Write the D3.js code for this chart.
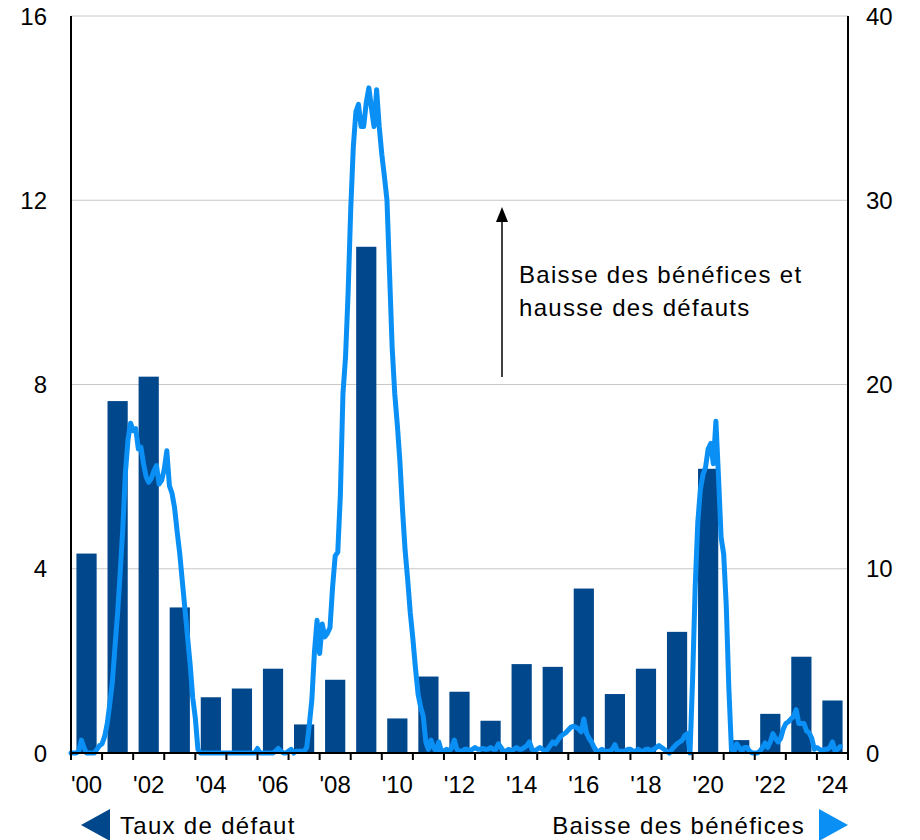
<!DOCTYPE html>
<html><head><meta charset="utf-8">
<script src="https://cdn.jsdelivr.net/npm/d3@7"></script>
<style>body{margin:0;background:#fff}svg{display:block}text{font-family:"Liberation Sans",Arial,sans-serif;fill:#000}</style>
</head><body><svg id="c" width="920" height="840"></svg>
<script>
const years = d3.range(2000, 2025);
const yearLabels = ["'00","'02","'04","'06","'08","'10","'12","'14","'16","'18","'20","'22","'24"];
const defaultRate = [4.33,7.64,8.17,3.16,1.21,1.40,1.83,0.62,1.59,10.99,0.75,1.66,1.33,0.70,1.93,1.87,3.57,1.28,1.83,2.63,6.17,0.28,0.85,2.09,1.14];
const leftTicks = [0,4,8,12,16];
const rightTicks = [0,10,20,30,40];
const earningsStart = 2000;
const earningsDecline = [
 0,0,0,0.1,0.7,0.3,0,0,0,0,0.2,0.4,
 0.5,0.9,1.6,2.7,3.9,5.8,7.6,9.8,12.2,15.2,17.0,17.9,
 17.5,17.6,16.5,16.6,15.7,15.0,14.7,14.9,15.3,15.6,14.6,14.8,
 15.4,16.4,14.5,14.1,13.3,12.0,10.8,9.3,7.8,6.3,4.8,3.0,
 1.9,0.2,0,0,0,0,0,0,0,0,0,0,
 0,0,0,0,0,0,0,0,0,0,0,0,
 0.25,0,0,0,0,0,0,0.1,0.25,0.1,0,0,
 0.1,0.2,0,0.1,0.1,0.1,0.1,0.3,1.5,2.9,5.5,7.2,
 5.4,7.0,6.3,6.5,6.8,9.0,10.7,10.9,14.0,19.5,21.5,25.0,
 29.5,32.9,34.8,35.2,34.0,34.0,35.3,36.1,35.0,34.0,36.0,34.0,
 32.5,31.3,30.0,26.0,22.0,19.5,17.8,15.8,13.2,11.0,9.4,7.6,
 6.2,4.6,3.2,2.5,2.0,0.6,0.2,0.7,0.3,0.1,0.6,0.1,
 0.1,0.2,0.1,0.3,0.7,0.2,0.1,0.1,0.2,0.2,0.1,0.2,
 0.3,0.2,0.2,0.25,0.2,0.2,0.3,0.2,0.2,0.5,0.3,0.1,
 0.1,0.2,0.1,0.2,0.3,0.2,0.2,0.3,0.4,0.6,0.2,0.1,
 0.2,0.3,0.2,0.1,0.2,0.4,0.6,0.5,0.7,0.9,1.0,1.1,
 1.25,1.4,1.45,1.4,1.3,1.15,1.85,1.1,0.8,0.6,0.3,0.1,
 0.1,0.2,0.1,0.1,0.1,0.2,0.45,0.1,0.1,0.1,0.1,0.2,
 0.2,0.1,0.1,0.2,0.1,0.1,0.2,0.2,0.1,0.2,0.3,0.4,
 0.3,0.2,0.1,0,0.2,0.35,0.5,0.6,0.7,0.95,1.05,0,
 4.0,9.0,12.5,14.3,15.1,15.5,16.5,16.8,15.7,18.0,15.0,11.7,
 10.8,8.0,3.5,0.2,0.1,0.5,0.3,0.1,0.3,0.3,0.1,0,
 0,0,0.1,0.3,0.55,0.3,0.6,1.05,0.8,0.6,0.8,1.3,
 1.6,1.7,1.85,2.0,2.35,1.6,1.6,1.6,1.2,1.1,0.8,0.2,
 0.3,0.2,0.1,0.2,0.2,0.3,0.6,0.1,0.2,0.35
];

const svg = d3.select("#c");
const L = 71, R = 848, T = 16, B = 753;
const FS = 24, LS = "1.3px";
const x = d3.scaleBand().domain(years).range([L, R]).paddingInner(0.35).paddingOuter(0.175);
const xt = d3.scaleLinear().domain([2000, 2025]).range([L, R]);
const yL = d3.scaleLinear().domain([0, 16]).range([B, T]);
const yR = d3.scaleLinear().domain([0, 40]).range([B, T]);

// gridlines
svg.append("g").selectAll("line").data(leftTicks.filter(d => d > 0)).join("line")
  .attr("x1", L).attr("x2", R).attr("y1", d => yL(d)).attr("y2", d => yL(d))
  .attr("stroke", "#c8c8c8").attr("stroke-width", 1);

// bars
svg.append("g").selectAll("rect").data(years).join("rect")
  .attr("x", d => x(d)).attr("width", x.bandwidth())
  .attr("y", (d, i) => yL(defaultRate[i])).attr("height", (d, i) => B - yL(defaultRate[i]))
  .attr("fill", "#00478c");

// line
const line = d3.line().x((d, i) => xt(earningsStart + i / 12)).y(d => yR(d)).curve(d3.curveLinear);
svg.append("path").datum(earningsDecline).attr("d", line)
  .attr("fill", "none").attr("stroke", "#0a8ff5").attr("stroke-width", 5)
  .attr("stroke-linejoin", "round").attr("stroke-linecap", "round");

// axes lines
const axisG = svg.append("g");
axisG.append("line").attr("x1", L).attr("x2", L).attr("y1", T).attr("y2", B).attr("stroke", "#000").attr("stroke-width", 2);
axisG.append("line").attr("x1", R).attr("x2", R).attr("y1", T).attr("y2", B).attr("stroke", "#000").attr("stroke-width", 2);
axisG.append("line").attr("x1", L - 1).attr("x2", R + 1).attr("y1", B).attr("y2", B).attr("stroke", "#000").attr("stroke-width", 2);
axisG.selectAll("line.tk").data(d3.range(2000, 2026)).join("line").attr("class", "tk")
  .attr("x1", d => xt(d)).attr("x2", d => xt(d)).attr("y1", B).attr("y2", B + 7)
  .attr("stroke", "#000").attr("stroke-width", 2);

// x labels
svg.append("g").selectAll("text").data(yearLabels).join("text")
  .attr("x", (d, i) => x(2000 + 2 * i) + x.bandwidth() / 2).attr("y", 793)
  .attr("text-anchor", "middle").attr("font-size", FS).text(d => d);

// y labels
svg.append("g").selectAll("text").data(leftTicks).join("text")
  .attr("x", 47).attr("y", d => yL(d) + 8.5).attr("text-anchor", "end").attr("font-size", FS).text(d => d);
svg.append("g").selectAll("text").data(rightTicks).join("text")
  .attr("x", 866).attr("y", d => yR(d) + 8.5).attr("text-anchor", "start").attr("font-size", FS).text(d => d);

// annotation arrow
svg.append("line").attr("x1", 502).attr("x2", 502).attr("y1", 377).attr("y2", 220).attr("stroke", "#000").attr("stroke-width", 1.5);
svg.append("path").attr("d", "M502,207 L508,222 L496,222 Z").attr("fill", "#000");
svg.append("text").attr("x", 519).attr("y", 283).attr("font-size", FS).attr("letter-spacing", LS).text("Baisse des bénéfices et");
svg.append("text").attr("x", 519).attr("y", 316).attr("font-size", FS).attr("letter-spacing", LS).text("hausse des défauts");

// legend
svg.append("path").attr("d", "M81,825 L110,809 L110,841 Z").attr("fill", "#00478c");
svg.append("text").attr("x", 120).attr("y", 834).attr("font-size", FS).attr("letter-spacing", LS).text("Taux de défaut");
svg.append("path").attr("d", "M848,825 L819,809 L819,841 Z").attr("fill", "#0a8ff5");
svg.append("text").attr("x", 805).attr("y", 834).attr("text-anchor", "end").attr("font-size", FS).attr("letter-spacing", LS).text("Baisse des bénéfices");
</script></body></html>
